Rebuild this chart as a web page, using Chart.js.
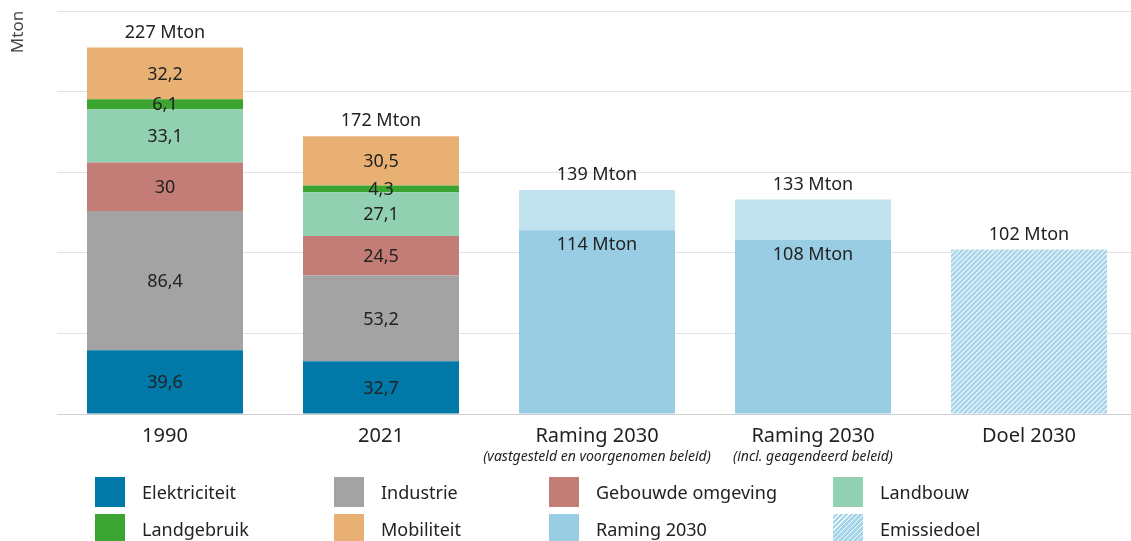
<!DOCTYPE html>
<html lang="nl">
<head>
<meta charset="utf-8">
<title>Broeikasgasemissies</title>
<script src="https://cdn.jsdelivr.net/npm/chart.js@4.4.1/dist/chart.umd.min.js"></script>
<style>
    html, body { margin: 0; padding: 0; background: #fff; overflow: hidden; }
    #wrap { position: relative; width: 1137px; height: 541px; }
    #emissies { position: absolute; left: 0; top: 0; }
    #legenda { position: absolute; left: 0; top: 0; width: 100%; height: 100%; pointer-events: none; font-family: 'Noto Sans', sans-serif; }
    .item { position: absolute; display: flex; align-items: center; font-size: 18px; color: #222; white-space: nowrap; }
    .box { width: 30px; height: 30px; margin-right: 17px; }
</style>
</head>
<body>
<div id="wrap">
    <canvas id="emissies" width="1137" height="541"></canvas>
    <div id="legenda"></div>
</div>
<script>
// categorieën en onderschriften
const categorieen = ['1990', '2021', 'Raming 2030', 'Raming 2030', 'Doel 2030'];
const onderschriften = ['', '', '(vastgesteld en voorgenomen beleid)', '(incl. geagendeerd beleid)', ''];

// emissies per sector (Mton)
const elektriciteit = [39.6, 32.7, null, null, null];
const industrie = [86.4, 53.2, null, null, null];
const gebouwdeOmgeving = [30, 24.5, null, null, null];
const landbouw = [33.1, 27.1, null, null, null];
const landgebruik = [6.1, 4.3, null, null, null];
const mobiliteit = [32.2, 30.5, null, null, null];

// ramingen en doel
const raming = [null, null, 114, 108, null];
const ramingBovengrens = [null, null, 25, 25, null];
const emissiedoel = [null, null, null, null, 102];

// totalen boven de staven
const totalen = [227, 172, 139, 133, 102];

// y-as
const yMax = 250;
const yStap = 50;

const FONT = "'Noto Sans', sans-serif";
const TEKST = '#222';

// arcering voor emissiedoel
function maakArcering() {
    const s = 5;
    const c = document.createElement('canvas');
    c.width = s; c.height = s;
    const g = c.getContext('2d');
    g.fillStyle = '#a6d4e9';
    g.fillRect(0, 0, s, s);
    g.strokeStyle = 'rgba(255,255,255,0.85)';
    g.lineWidth = 1.2;
    g.beginPath();
    g.moveTo(0, s); g.lineTo(s, 0);
    g.moveTo(-1, 1); g.lineTo(1, -1);
    g.moveTo(s - 1, s + 1); g.lineTo(s + 1, s - 1);
    g.stroke();
    return c;
}

const ctx = document.getElementById('emissies').getContext('2d');
const arcering = ctx.createPattern(maakArcering(), 'repeat');

function fmt(v) {
    return String(v).replace('.', ',');
}

// labels in en boven de staven
const labelPlugin = {
    id: 'labels',
    afterDatasetsDraw(chart) {
        const c = chart.ctx;
        const y = chart.scales.y;
        c.save();
        c.fillStyle = TEKST;
        c.font = '18px ' + FONT;
        c.textAlign = 'center';
        c.textBaseline = 'middle';

        chart.data.datasets.forEach((ds, i) => {
            const meta = chart.getDatasetMeta(i);
            meta.data.forEach((bar, j) => {
                const v = ds.data[j];
                if (v == null) return;
                if (ds.sector) {
                    c.fillText(fmt(v), bar.x, (bar.y + bar.base) / 2 + 1);
                } else if (ds.label === 'Raming 2030') {
                    c.fillText(v + ' Mton', bar.x, bar.y + 15);
                }
            });
        });

        // totalen
        const xs = chart.scales.x;
        totalen.forEach((t, j) => {
            let som = 0;
            chart.data.datasets.forEach(ds => { som += ds.data[j] || 0; });
            c.fillText(t + ' Mton', xs.getPixelForValue(j), y.getPixelForValue(som) - 15);
        });

        // onderschriften
        c.font = 'italic 14px ' + FONT;
        onderschriften.forEach((o, j) => {
            if (o) c.fillText(o, xs.getPixelForValue(j), 457);
        });

        // eenheid
        c.fillStyle = '#444';
        c.font = '17px ' + FONT;
        c.translate(18, 32);
        c.rotate(-Math.PI / 2);
        c.fillText('Mton', 0, 0);
        c.restore();
    }
};

const datasets = [
    { label: 'Elektriciteit', data: elektriciteit, backgroundColor: '#0079a8', sector: true },
    { label: 'Industrie', data: industrie, backgroundColor: '#a3a3a3', sector: true },
    { label: 'Gebouwde omgeving', data: gebouwdeOmgeving, backgroundColor: '#c47c77', sector: true },
    { label: 'Landbouw', data: landbouw, backgroundColor: '#91d1b2', sector: true },
    { label: 'Landgebruik', data: landgebruik, backgroundColor: '#3ca431', sector: true },
    { label: 'Mobiliteit', data: mobiliteit, backgroundColor: '#e9b074', sector: true },
    { label: 'Raming 2030', data: raming, backgroundColor: '#99cde4' },
    { label: 'Raming bovengrens', data: ramingBovengrens, backgroundColor: '#c3e2ef', geenLegenda: true },
    { label: 'Emissiedoel', data: emissiedoel, backgroundColor: arcering }
];

new Chart(ctx, {
    type: 'bar',
    data: { labels: categorieen, datasets: datasets },
    options: {
        responsive: false,
        animation: false,
        layout: { padding: { top: 11, right: 0, left: 0, bottom: 0 } },
        datasets: { bar: { barPercentage: 156 / 216, categoryPercentage: 1, borderWidth: 0 } },
        plugins: { legend: { display: false }, tooltip: { enabled: false } },
        scales: {
            x: {
                stacked: true,
                grid: { display: false },
                border: { display: true, color: '#cfcfcf' },
                ticks: { color: TEKST, font: { family: FONT, size: 20 }, padding: 2 },
                afterFit(scale) { scale.height = 541 - 414; }
            },
            y: {
                stacked: true,
                min: 0,
                max: yMax,
                ticks: { display: false, stepSize: yStap },
                grid: { color: '#e2e2e2', drawTicks: false },
                border: { display: false },
                afterFit(scale) { scale.width = 57; }
            }
        }
    },
    plugins: [labelPlugin]
});

// legenda (twee rijen, vier kolommen)
const kolommen = [95, 334, 549, 833];
const rijen = [477, 514];
const legenda = document.getElementById('legenda');
datasets.filter(ds => !ds.geenLegenda).forEach((ds, i) => {
    const item = document.createElement('div');
    item.className = 'item';
    item.style.left = kolommen[i % 4] + 'px';
    item.style.top = rijen[Math.floor(i / 4)] + 'px';
    const box = document.createElement('div');
    box.className = 'box';
    if (ds.label === 'Emissiedoel') {
        box.style.background = 'repeating-linear-gradient(-45deg, #a6d4e9 0px, #a6d4e9 2.4px, #f2f9fc 2.4px, #f2f9fc 3.5px)';
    } else {
        box.style.background = ds.backgroundColor;
    }
    const tekst = document.createElement('span');
    tekst.textContent = ds.label;
    item.appendChild(box);
    item.appendChild(tekst);
    legenda.appendChild(item);
});
</script>
</body>
</html>
